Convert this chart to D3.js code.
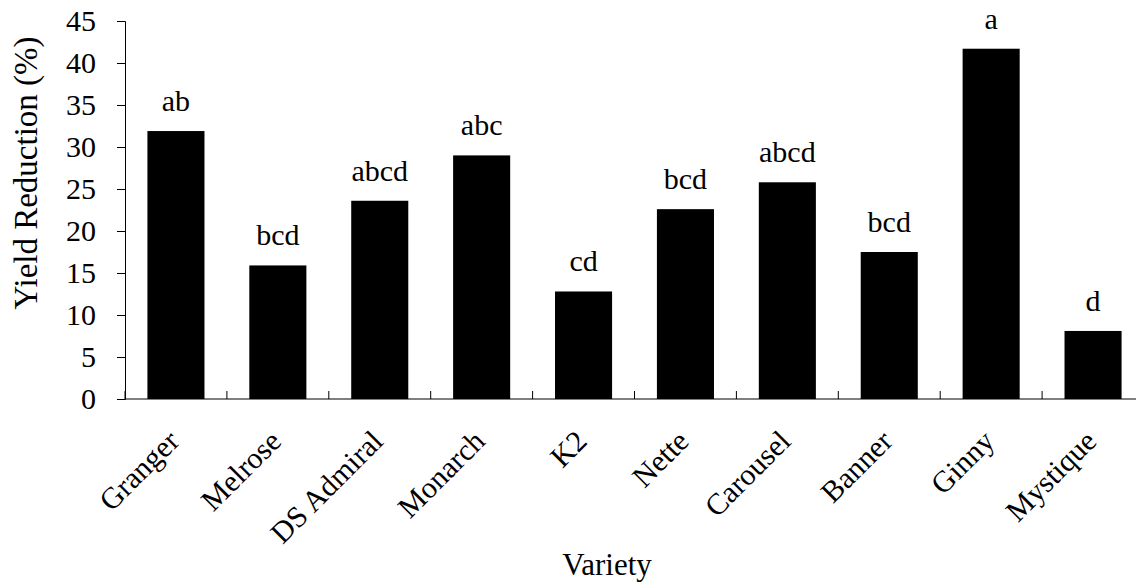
<!DOCTYPE html>
<html>
<head>
<meta charset="utf-8">
<script src="https://cdn.jsdelivr.net/npm/d3@7"></script>
</head>
<body style="margin:0">
<svg id="chart" width="1136" height="586"></svg>
<script>
// Yield reduction by variety with significance letters
const varieties = ["Granger", "Melrose", "DS Admiral", "Monarch", "K2", "Nette", "Carousel", "Banner", "Ginny", "Mystique"];
const reduction = [31.9, 15.9, 23.6, 29.0, 12.8, 22.6, 25.8, 17.5, 41.7, 8.1];
const letters = ["ab", "bcd", "abcd", "abc", "cd", "bcd", "abcd", "bcd", "a", "d"];
const yTicks = [0, 5, 10, 15, 20, 25, 30, 35, 40, 45];

const FONT = "Liberation Serif";
const FS = 30;

const svg = d3.select("#chart");
const plotLeft = 125, plotRight = 1144, plotTop = 21, plotBottom = 399;

const x = d3.scaleBand().domain(varieties).range([plotLeft, plotRight]).paddingInner(0.44).paddingOuter(0.22);
const y = d3.scaleLinear().domain([0, 45]).range([plotBottom, plotTop]);

// bars
svg.append("g").selectAll("rect").data(varieties).join("rect")
  .attr("x", d => x(d))
  .attr("y", (d, i) => y(reduction[i]))
  .attr("width", x.bandwidth())
  .attr("height", (d, i) => y(0) - y(reduction[i]))
  .attr("fill", "#000");

// letters above bars
svg.append("g").selectAll("text").data(varieties).join("text")
  .attr("x", d => x(d) + x.bandwidth() / 2)
  .attr("y", (d, i) => y(reduction[i]) - 20)
  .attr("text-anchor", "middle")
  .attr("font-size", FS)
  .style("font-family", FONT)
  .text((d, i) => letters[i]);

// y axis
const yAxis = svg.append("g").attr("transform", `translate(${plotLeft},0)`)
  .call(d3.axisLeft(y).tickValues(yTicks).tickSize(8).tickPadding(21));
yAxis.attr("font-family", null).attr("font-size", FS);
yAxis.selectAll("text").attr("font-size", FS).style("font-family", FONT).attr("fill", "#000");
yAxis.selectAll("line, path").attr("stroke", "#000");

// x axis: ticks between categories, pointing up
const step = x.step();
const boundaries = d3.range(varieties.length + 1).map(i => plotLeft + i * step);
const xg = svg.append("g");
xg.append("line").attr("x1", plotLeft).attr("x2", plotRight).attr("y1", plotBottom).attr("y2", plotBottom).attr("stroke", "#000");
xg.selectAll("line.tk").data(boundaries).join("line").attr("class", "tk")
  .attr("x1", d => d).attr("x2", d => d).attr("y1", plotBottom).attr("y2", plotBottom - 8).attr("stroke", "#000");

// rotated category labels
svg.append("g").selectAll("text").data(varieties).join("text")
  .attr("text-anchor", "end")
  .attr("font-size", FS)
  .style("font-family", FONT)
  .attr("transform", d => `translate(${x(d) + x.bandwidth() / 2 + 5},${plotBottom + 44}) rotate(-45)`)
  .text(d => d);

// axis titles
svg.append("text").attr("x", 607).attr("y", 575).attr("text-anchor", "middle")
  .attr("font-size", 31).style("font-family", FONT).text("Variety");
svg.append("text").attr("transform", `translate(37,173) rotate(-90)`)
  .attr("text-anchor", "middle").attr("font-size", 33).style("font-family", FONT).text("Yield Reduction (%)");
</script>
</body>
</html>
